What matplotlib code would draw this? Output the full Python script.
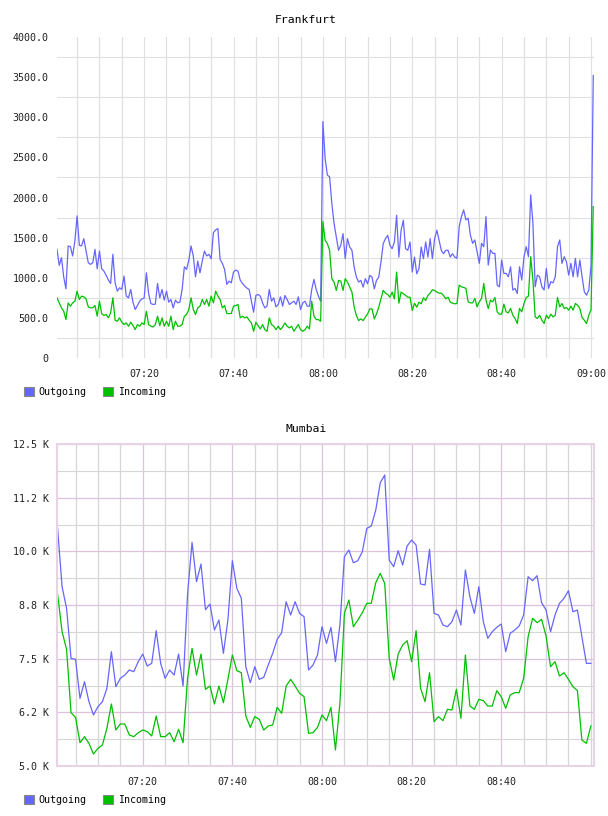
import matplotlib
import matplotlib.pyplot as plt
import matplotlib.dates as mdates
import matplotlib.ticker as mticker
from matplotlib.patches import Patch
import pandas as pd

matplotlib.use("Agg")

plt.rcParams["font.family"] = ["DejaVu Sans Mono"]

# Frankfurt: samples every 30 s
fra_start = "2024-01-01 07:00:30"
fra_outgoing = [
    1354, 1154, 1250, 1012, 862, 1396, 1387, 1271, 1458, 1771,
    1404, 1396, 1487, 1333, 1187, 1167, 1187, 1354, 1112, 1333,
    1112, 1083, 1029, 971, 929, 1292, 937, 833, 875, 854,
    1021, 771, 750, 854, 696, 604, 654, 708, 737, 746,
    1062, 804, 679, 667, 671, 929, 750, 854, 721, 833,
    696, 729, 625, 721, 687, 696, 854, 1137, 1104, 1221,
    1396, 1271, 1012, 1208, 1062, 1208, 1333, 1271, 1292, 1237,
    1562, 1596, 1612, 1229, 1179, 1104, 917, 958, 937, 1071,
    1096, 1083, 971, 929, 896, 871, 854, 708, 571, 779,
    792, 771, 687, 625, 646, 854, 708, 750, 637, 667,
    762, 646, 779, 729, 667, 687, 708, 667, 762, 604,
    687, 708, 646, 646, 854, 979, 854, 771, 708,
    2946, 2487, 2279, 2258, 1925, 1675, 1508, 1342, 1404, 1550,
    1237, 1487, 1383, 1342, 1133, 1008, 946, 967, 883, 988,
    925, 1029, 1008, 862, 967, 1008, 1196, 1425, 1487, 1529,
    1404, 1362, 1446, 1779, 1258, 1592, 1717, 1362, 1342, 1446,
    1071, 1258, 1050, 1112, 1383, 1237, 1446, 1258, 1487, 1237,
    1487, 1592, 1467, 1342, 1300, 1342, 1342, 1258, 1300, 1258,
    1242, 1637, 1762, 1846, 1721, 1742, 1533, 1429, 1471, 1325,
    1179, 1429, 1387, 1762, 1158, 1346, 1304, 1304, 908, 887,
    1221, 1054, 1054, 1012, 1137, 846, 867, 804, 1137, 971,
    1262, 1387, 1262, 2033, 1679, 887, 1033, 1012, 887, 846,
    1117, 867, 950, 937, 1012, 1387, 1471, 1179, 1262, 1200,
    1033, 1179, 1012, 1242, 1012, 1221, 1012, 825, 783, 846,
    1150, 3520,
]
fra_incoming = [
    750, 687, 625, 583, 479, 687, 646, 687, 708, 833,
    729, 771, 762, 737, 637, 625, 625, 654, 521, 708,
    554, 529, 542, 500, 562, 750, 471, 458, 500, 446,
    417, 437, 396, 446, 404, 354, 417, 396, 437, 417,
    583, 417, 396, 387, 417, 521, 404, 500, 396, 458,
    396, 521, 354, 458, 396, 396, 417, 521, 542, 604,
    750, 604, 542, 625, 646, 729, 667, 729, 646, 771,
    687, 833, 771, 729, 625, 654, 554, 554, 554, 646,
    654, 667, 500, 521, 500, 512, 471, 437, 333, 446,
    404, 362, 417, 354, 333, 500, 417, 396, 354, 396,
    354, 387, 437, 396, 375, 396, 333, 375, 417, 354,
    333, 354, 396, 362, 708, 521, 479, 479, 458,
    1700, 1467, 1425, 1342, 988, 946, 842, 967, 958, 842,
    988, 946, 883, 821, 633, 529, 467, 487, 467, 508,
    550, 612, 612, 487, 550, 633, 737, 842, 808, 792,
    758, 821, 737, 1071, 683, 821, 800, 779, 758, 758,
    592, 683, 633, 696, 675, 750, 717, 779, 808, 850,
    842, 821, 808, 808, 779, 737, 758, 696, 683, 675,
    679, 908, 887, 879, 867, 700, 687, 687, 742, 637,
    700, 742, 929, 721, 617, 721, 700, 754, 575, 546,
    546, 671, 575, 562, 617, 533, 492, 429, 617, 575,
    679, 754, 771, 1262, 971, 512, 492, 533, 471, 429,
    533, 492, 546, 512, 533, 754, 637, 679, 617, 629,
    596, 646, 596, 679, 658, 617, 504, 471, 429, 533,
    600, 1887,
]

# Mumbai: samples every minute
mum_start = "2024-01-01 07:01:00"
mum_outgoing = [
    10535, 9177, 8672, 7507, 7484, 6576, 6964, 6498, 6188, 6382,
    6498, 6809, 7663, 6848, 7042, 7119, 7236, 7197, 7430, 7608,
    7329, 7391, 8152, 7391, 7042, 7236, 7119, 7608, 6863, 9000,
    10209, 9293, 9704, 8640, 8773, 8167, 8400, 7624, 8400, 9782,
    9138, 8905, 7313, 6941, 7313, 7018, 7065, 7352, 7624, 7950,
    8105, 8827, 8517, 8827, 8555, 8478, 7236, 7352, 7585, 8245,
    7857, 8229, 7430, 8284, 9875, 10030, 9735, 9782, 9992, 10535,
    10589, 10962, 11598, 11777, 9797, 9642, 10015, 9681, 10124, 10263,
    10147, 9239, 9216, 10046, 8555, 8517, 8284, 8245, 8361, 8633,
    8284, 9565, 8944, 8555, 9177, 8361, 7973, 8128, 8229, 8307,
    7663, 8090, 8167, 8260, 8517, 9409, 9316, 9433, 8804, 8633,
    8128, 8517, 8788, 8905, 9083, 8594, 8633, 8012, 7391, 7391,
]
mum_incoming = [
    9000, 8128, 7717, 6242, 6133, 5543, 5683, 5528, 5279, 5411,
    5489, 5877, 6444, 5838, 5978, 5978, 5722, 5683, 5776, 5838,
    5800, 5699, 6164, 5683, 5683, 5776, 5567, 5854, 5543, 7042,
    7740, 7119, 7608, 6786, 6863, 6444, 6863, 6475, 7018, 7585,
    7220, 7174, 6164, 5900, 6149, 6087, 5838, 5932, 5955, 6366,
    6227, 6863, 7018, 6863, 6692, 6615, 5761, 5776, 5900, 6188,
    6056, 6366, 5373, 6459, 8555, 8866, 8245, 8400, 8571, 8788,
    8790, 9270, 9487, 9254, 7507, 7003, 7608, 7818, 7919, 7430,
    8152, 6809, 6498, 7174, 6032, 6149, 6056, 6320, 6304, 6786,
    6110, 7585, 6397, 6320, 6553, 6522, 6397, 6397, 6754, 6615,
    6343, 6654, 6708, 6708, 7042, 8012, 8439, 8338, 8416, 8028,
    7313, 7430, 7096, 7174, 7018, 6848, 6754, 5606, 5528, 5932,
]

fra_yticks = [0, 500, 1000, 1500, 2000, 2500, 3000, 3500, 4000]
fra_ylabels = ["0", "500.0", "1000.0", "1500.0", "2000.0", "2500.0", "3000.0", "3500.0", "4000.0"]
fra_xticks = ["07:20", "07:40", "08:00", "08:20", "08:40", "09:00"]
mum_yticks = [5000, 6250, 7500, 8750, 10000, 11250, 12500]
mum_ylabels = ["5.0 K", "6.2 K", "7.5 K", "8.8 K", "10.0 K", "11.2 K", "12.5 K"]
mum_xticks = ["07:20", "07:40", "08:00", "08:20", "08:40"]

BLUE = "#6666ff"
GREEN = "#00c000"
GREY = "#e0e0e0"
GREY_M = "#d6d6d6"
LILAC = "#dcc2dc"
DAY = "2024-01-01 "


def setup_time_axis(ax, xmin, xmax, labels, grid_color):
    lo, hi = pd.Timestamp(DAY + xmin), pd.Timestamp(DAY + xmax)
    ax.set_xlim(lo, hi)
    majors = [mdates.date2num(pd.Timestamp(DAY + h)) for h in labels]
    ax.xaxis.set_major_locator(mticker.FixedLocator(majors))
    ax.xaxis.set_major_formatter(mdates.DateFormatter("%H:%M"))
    ax.tick_params(axis="both", which="both", length=0, labelsize=7.2, colors="#222222")
    ax.tick_params(axis="x", pad=8)
    ax.tick_params(axis="y", pad=6)
    # 5-minute grid, drawn under the data
    for m in pd.date_range(lo.ceil("5min"), hi, freq="5min"):
        if mdates.date2num(m) not in majors:
            ax.axvline(m, color=grid_color, lw=0.9, zorder=0.5)


def add_legend(fig, y):
    handles = [
        Patch(facecolor=BLUE, edgecolor="#888888", linewidth=0.8, label="Outgoing"),
        Patch(facecolor=GREEN, edgecolor="#888888", linewidth=0.8, label="Incoming"),
    ]
    fig.legend(handles=handles, loc="center left", bbox_to_anchor=(0.031, y),
               ncol=2, frameon=False, fontsize=7.2, borderpad=0,
               handlelength=1.0, handleheight=1.0, handletextpad=0.5,
               columnspacing=1.6)


fig = plt.figure(figsize=(6.08, 8.16), dpi=100)

# --- Frankfurt ---
ax1 = fig.add_axes([57 / 608, 1 - 358 / 816, 537 / 608, 321 / 816])
t1 = pd.date_range(fra_start, periods=len(fra_outgoing), freq="30s")
ax1.plot(t1, fra_outgoing, color=BLUE, lw=0.9)
ax1.plot(t1, fra_incoming, color=GREEN, lw=0.9)
ax1.set_ylim(0, 4000)
ax1.set_yticks(fra_yticks)
ax1.set_yticklabels(fra_ylabels)
ax1.set_yticks([v + 250 for v in fra_yticks[:-1]], minor=True)
setup_time_axis(ax1, "07:00:30", "09:00:40", fra_xticks, GREY)
ax1.grid(False, which="major", axis="y")
ax1.grid(True, which="minor", axis="y", color=GREY, lw=0.8)
ax1.grid(True, which="major", axis="x", color=GREY, lw=0.8)
ax1.set_axisbelow(True)
for s in ax1.spines.values():
    s.set_visible(False)
fig.text(306 / 608, 1 - 20 / 816, "Frankfurt", ha="center", va="center", fontsize=8.2)
add_legend(fig, 1 - 392 / 816)

# --- Mumbai ---
ax2 = fig.add_axes([57 / 608, 1 - 766 / 816, 537 / 608, 322 / 816])
t2 = pd.date_range(mum_start, periods=len(mum_outgoing), freq="1min")
ax2.plot(t2, mum_outgoing, color=BLUE, lw=0.9)
ax2.plot(t2, mum_incoming, color=GREEN, lw=0.9)
ax2.set_ylim(5000, 12500)
ax2.set_yticks(mum_yticks)
ax2.set_yticklabels(mum_ylabels)
ax2.set_yticks([v + 625 for v in mum_yticks[:-1]], minor=True)
setup_time_axis(ax2, "07:00:52", "09:00:42", mum_xticks, GREY_M)
ax2.grid(True, which="minor", axis="y", color=GREY_M, lw=0.8)
ax2.grid(True, which="major", axis="both", color=LILAC, lw=0.9)
ax2.set_axisbelow(True)
for s in ax2.spines.values():
    s.set_color("#e6d4e6")
    s.set_linewidth(1.5)
fig.text(306 / 608, 1 - 429 / 816, "Mumbai", ha="center", va="center", fontsize=8.2)
add_legend(fig, 1 - 800 / 816)

fig.savefig("out.png", dpi=100)
